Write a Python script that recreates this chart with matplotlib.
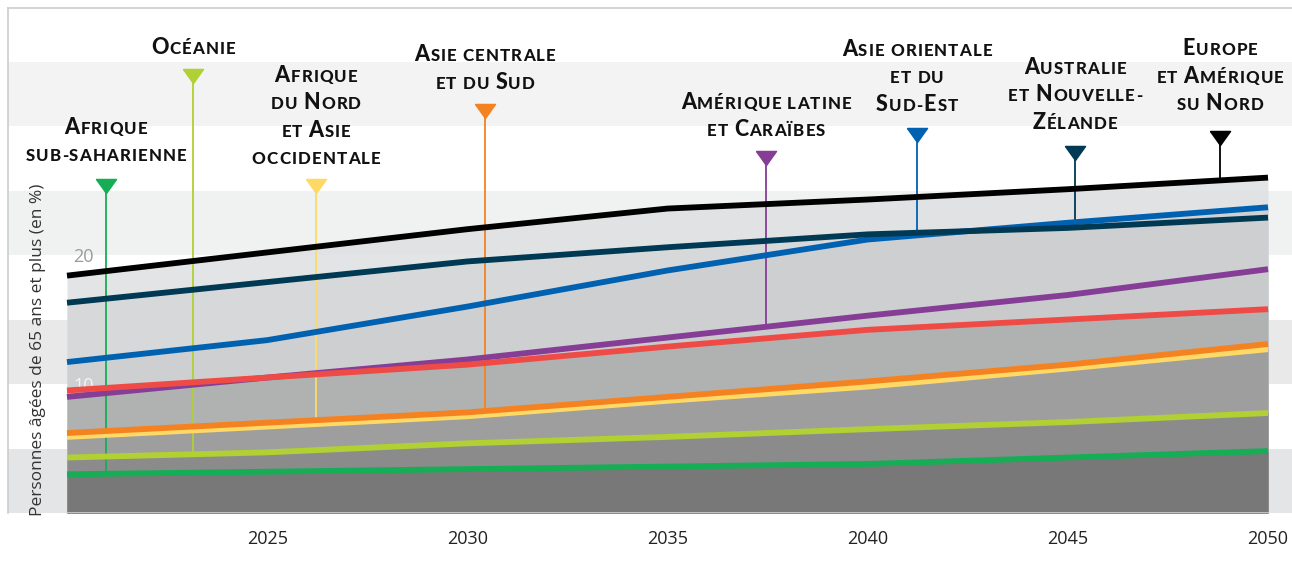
import numpy as np
import matplotlib
matplotlib.use('Agg')
import matplotlib.pyplot as plt
from matplotlib.transforms import offset_copy
from matplotlib.font_manager import FontProperties

# Personnes âgées de 65 ans et plus (en %), par région
years = [2020, 2025, 2030, 2035, 2040, 2045, 2050]
europe_amerique_nord = [18.4, 20.2, 22.0, 23.6, 24.3, 25.1, 26.0]
australie_nz = [16.3, 17.9, 19.5, 20.6, 21.6, 22.1, 22.9]
asie_orientale_se = [11.7, 13.4, 16.0, 18.8, 21.2, 22.5, 23.7]
amerique_latine = [9.0, 10.5, 11.9, 13.6, 15.3, 16.9, 18.9]
monde = [9.5, 10.5, 11.5, 12.9, 14.2, 15.0, 15.8]
asie_centrale_sud = [6.2, 7.0, 7.8, 9.0, 10.2, 11.5, 13.1]
afrique_nord_asie_occ = [5.9, 6.7, 7.5, 8.7, 9.8, 11.2, 12.7]
oceanie = [4.3, 4.7, 5.4, 5.9, 6.5, 7.05, 7.75]
afrique_subsaharienne = [3.0, 3.2, 3.4, 3.6, 3.8, 4.3, 4.8]

# ordre de tracé (du haut vers le bas), couleur du trait, couleur de la zone
series = [
    (europe_amerique_nord, '#000000', '#e0e1e3'),
    (australie_nz, '#003953', '#d6d7d9'),
    (asie_orientale_se, '#0061b1', '#cdced0'),
    (amerique_latine, '#863d96', '#c9cacb'),
    (monde, '#ef4b46', '#aeafaf'),
    (afrique_nord_asie_occ, '#ffd966', '#9c9c9c'),
    (asie_centrale_sud, '#f58220', None),
    (oceanie, '#b1d033', '#898989'),
    (afrique_subsaharienne, '#17ad56', '#767676'),
]
line_order = [0, 2, 1, 3, 4, 5, 6, 7, 8]

# étiquettes : lignes, série, couleur, année du repère, hauteur du repère, ligne de base
labels = [
    (["Afrique", "sub-saharienne"], afrique_subsaharienne, '#17ad56', 2020.97, 25.35, 27.3),
    (["Océanie"], oceanie, '#b1d033', 2023.15, 33.9, 35.6),
    (["Afrique", "du Nord", "et Asie", "occidentale"], afrique_nord_asie_occ, '#ffd966', 2026.22, 25.35, 27.05),
    (["Asie centrale", "et du Sud"], asie_centrale_sud, '#f58220', 2030.44, 31.2, 32.9),
    (["Amérique latine", "et Caraïbes"], amerique_latine, '#863d96', 2037.46, 27.5, 29.2),
    (["Asie orientale", "et du", "Sud-Est"], asie_orientale_se, '#0061b1', 2041.23, 29.3, 31.2),
    (["Australie", "et Nouvelle-", "Zélande"], australie_nz, '#003953', 2045.18, 27.9, 29.8),
    (["Europe", "et Amérique", "su Nord"], europe_amerique_nord, '#000000', 2048.8, 29.1, 31.25),
]

bands = [(0, 5, '#e4e5e6'), (10, 15, '#e9e9ea'), (20, 25, '#f0f1f1'), (30, 35, '#f3f3f3')]

W, H = 1292, 562
fig = plt.figure(figsize=(W / 100, H / 100), dpi=100)
ax = fig.add_axes([8 / W, (H - 513) / H, (W - 8) / W, 505 / H])
px_year = (1268 - 67) / 30.0
px_unit = 12.9
ax.set_xlim(2020 - 59 / px_year, 2020 + (W - 67) / px_year)
ax.set_ylim(0, 505 / px_unit)

for lo, hi, c in bands:
    ax.axhspan(lo, hi, color=c, lw=0, zorder=0)

for vals, col, fc in series:
    if fc is not None:
        ax.fill_between(years, 0, vals, color=fc, alpha=0.9, lw=0, zorder=1)

ax.plot([years[0], years[-1]], [0, 0], color='#cfcfcf', lw=1.2, zorder=2)

tri = [(-10, 7), (10, 7), (0, -7), (-10, 7)]
for lines, vals, col, yr, ty, base in labels:
    y_end = np.interp(yr, years, vals)
    ax.plot([yr, yr], [y_end, ty], color=col, lw=1.3, zorder=3, solid_capstyle='butt')
    ax.plot([yr], [ty], marker=tri, markersize=14.5, color=col, mec=col, lw=0, zorder=6)

for i in line_order:
    vals, col, fc = series[i]
    ax.plot(years, vals, color=col, lw=4.2, zorder=4, solid_capstyle='butt',
            solid_joinstyle='round')

# texte en petites capitales, lettre par lettre avec un léger interlettrage
renderer = fig.canvas.get_renderer()
fp_big = FontProperties(family='Lato', weight='black', size=15.5)
fp_small = FontProperties(family='Lato', weight='black', size=12.2)
tracking = 1.1


def text_width(s, fp):
    w1 = renderer.get_text_width_height_descent(s + 'H', fp, ismath=False)[0]
    w0 = renderer.get_text_width_height_descent('H', fp, ismath=False)[0]
    return w1 - w0


def smallcaps(x, y, line, dy):
    parts = []
    for ch in line:
        fp = fp_big if ch.isupper() else fp_small
        c = ch.upper()
        parts.append((c, fp, text_width(c, fp) + tracking))
    dx = -(sum(p[2] for p in parts) - tracking) / 2.0
    for c, fp, w in parts:
        if c != ' ':
            tr = offset_copy(ax.transData, fig=fig, x=dx, y=dy, units='dots')
            ax.text(x, y, c, fontproperties=fp, transform=tr, ha='left',
                    va='baseline', color='#111111', zorder=7)
        dx += w


for lines, vals, col, yr, ty, base in labels:
    n = len(lines)
    for i, line in enumerate(lines):
        smallcaps(yr, base, line, (n - 1 - i) * 27.3)

# axes
ax.set_xticks([2025, 2030, 2035, 2040, 2045, 2050])
ax.tick_params(axis='x', length=0, pad=12, labelsize=13, labelcolor='#222222')
ax.set_yticks([10, 20])
ax.tick_params(axis='y', length=0, pad=-62, labelsize=13)
for t in ax.get_xticklabels() + ax.get_yticklabels():
    t.set_fontfamily('Open Sans')
ylab = ax.get_yticklabels()
ylab[0].set_color('#f4f4f4')
ylab[1].set_color('#9b9b9b')

ax.text((38 - 8) / (W - 8), (513 - 350) / 505, "Personnes âgées de 65 ans et plus (en %)",
        transform=ax.transAxes, rotation=90, ha='center', va='center',
        fontsize=12.5, family='Open Sans', color='#333333')

for side in ['right', 'bottom']:
    ax.spines[side].set_visible(False)
for side in ['left', 'top']:
    ax.spines[side].set_color('#cccccc')
    ax.spines[side].set_linewidth(1.2)

fig.savefig('out.png', dpi=100, facecolor='white')
